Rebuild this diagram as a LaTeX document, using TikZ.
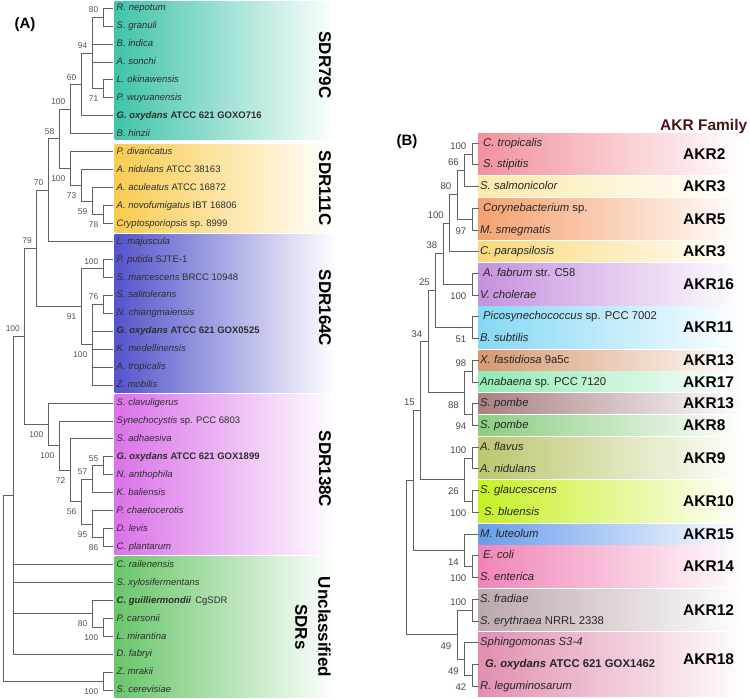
\documentclass[tikz,border=0pt]{standalone}
\usepackage{fontspec}
\setmainfont{Liberation Sans}
\usetikzlibrary{positioning}
\definecolor{sdrteal}{RGB}{64,196,168}
\definecolor{sdrgold}{RGB}{249,204,80}
\definecolor{sdrblue}{RGB}{84,84,204}
\definecolor{sdrpink}{RGB}{218,114,232}
\definecolor{sdrgreen}{RGB}{106,198,106}
\definecolor{akrtwo}{RGB}{242,145,155}
\definecolor{akrthreea}{RGB}{250,234,170}
\definecolor{akrfive}{RGB}{245,162,112}
\definecolor{akrthreeb}{RGB}{250,216,122}
\definecolor{akrsixteen}{RGB}{198,145,222}
\definecolor{akreleven}{RGB}{132,216,245}
\definecolor{akrthirteena}{RGB}{216,152,112}
\definecolor{akrseventeen}{RGB}{145,235,178}
\definecolor{akrthirteenb}{RGB}{168,128,130}
\definecolor{akreight}{RGB}{138,205,128}
\definecolor{akrnine}{RGB}{188,198,110}
\definecolor{akrten}{RGB}{198,240,36}
\definecolor{akrfifteen}{RGB}{104,157,235}
\definecolor{akrfourteen}{RGB}{240,132,182}
\definecolor{akrtwelve}{RGB}{188,168,172}
\definecolor{akreighteen}{RGB}{225,142,178}
\definecolor{akrtitle}{RGB}{75,20,25}
\tikzstyle{branch} = [draw=black!62, line width=0.65pt]
\tikzstyle{leafA} = [anchor=west, inner xsep=3.5pt, inner ysep=0pt, text height=7.5pt, text depth=2pt, text=black!82, font=\fontsize{9.5}{11}\selectfont]
\tikzstyle{leafB} = [anchor=west, inner xsep=1.5pt, inner ysep=0pt, text height=8.8pt, text depth=2.4pt, text=black!85, font=\fontsize{11.3}{13}\selectfont]
\tikzstyle{bootA} = [inner sep=0pt, text=black!68, font=\fontsize{8.4}{10}\selectfont]
\tikzstyle{bootB} = [inner sep=0pt, text=black!72, font=\fontsize{9.6}{11}\selectfont]
\tikzstyle{clade} = [rotate=-90, inner sep=0pt, align=center, font=\bfseries\fontsize{17}{23}\selectfont]
\tikzstyle{family} = [anchor=west, inner sep=0pt, font=\bfseries\fontsize{15.5}{18}\selectfont]
\tikzstyle{panel} = [inner sep=0pt, font=\bfseries\fontsize{15}{18}\selectfont]
\tikzset{
  upA/.style={above left=4pt and 4.5pt of #1},
  downA/.style={below left=7pt and 4.5pt of #1},
  upB/.style={above left=4.4pt and 5.5pt of #1},
  downB/.style={below left=8.4pt and 5.5pt of #1}
}

\begin{document}
\begin{tikzpicture}[x=1pt, y=-1pt]
		\useasboundingbox (0,0) rectangle (750,699);
		
		% (A) SDR clades
		\shade[left color=sdrteal, right color=white] (114.5,1) rectangle (336,139);
		\shade[left color=sdrgold, right color=white] (114.5,144) rectangle (336,232);
		\shade[left color=sdrblue, right color=white] (114.5,234) rectangle (336,392);
		\shade[left color=sdrpink, right color=white] (114.5,394) rectangle (336,554);
		\shade[left color=sdrgreen, right color=white] (114.5,556) rectangle (336,697);
		
		\node[panel] (panelA) at (25,25) {(A)};
		\node[clade] (sdr79) at (325,65) {SDR79C};
		\node[clade] (sdr111) at (325,188) {SDR111C};
		\node[clade] (sdr164) at (325,308) {SDR164C};
		\node[clade] (sdr138) at (325,469) {SDR138C};
		\node[clade] (sdrun) at (313,627) {Unclassified\\SDRs};
		
		\node[leafA] (nepotum) at (113,8.0) {\textit{R. nepotum}};
		\node[leafA] (granuli) at (113,25.95) {\textit{S. granuli}};
		\node[leafA] (indica) at (113,43.9) {\textit{B. indica}};
		\node[leafA] (sonchi) at (113,61.85) {\textit{A. sonchi}};
		\node[leafA] (okinaw) at (113,79.8) {\textit{L. okinawensis}};
		\node[leafA] (wuyuan) at (113,97.75) {\textit{P. wuyuanensis}};
		\node[leafA] (goxA) at (113,115.7) {\textbf{\textit{G. oxydans} ATCC 621 GOXO716}};
		\node[leafA] (hinzii) at (113,133.65) {\textit{B. hinzii}};
		\node[leafA] (divar) at (113,151.6) {\textit{P. divaricatus}};
		\node[leafA] (nidulA) at (113,169.55) {\textit{A. nidulans} ATCC 38163};
		\node[leafA] (aculeat) at (113,187.5) {\textit{A. aculeatus} ATCC 16872};
		\node[leafA] (novofum) at (113,205.45) {\textit{A. novofumigatus} IBT 16806};
		\node[leafA] (crypto) at (113,223.4) {\textit{Cryptosporiopsis} sp. 8999};
		\node[leafA] (majusc) at (113,241.35) {\textit{L. majuscula}};
		\node[leafA] (putida) at (113,259.3) {\textit{P. putida} SJTE-1};
		\node[leafA] (marces) at (113,277.25) {\textit{S. marcescens} BRCC 10948};
		\node[leafA] (salito) at (113,295.2) {\textit{S. salitolerans}};
		\node[leafA] (chiang) at (113,313.15) {\textit{N. chiangmaiensis}};
		\node[leafA] (goxB) at (113,331.1) {\textbf{\textit{G. oxydans} ATCC 621 GOX0525}};
		\node[leafA] (medell) at (113,349.05) {\textit{K. medellinensis}};
		\node[leafA] (tropA) at (113,367.0) {\textit{A. tropicalis}};
		\node[leafA] (mobilis) at (113,384.95) {\textit{Z. mobilis}};
		\node[leafA] (clavul) at (113,402.9) {\textit{S. clavuligerus}};
		\node[leafA] (synech) at (113,420.85) {\textit{Synechocystis} sp. PCC 6803};
		\node[leafA] (adhaes) at (113,438.8) {\textit{S. adhaesiva}};
		\node[leafA] (goxC) at (113,456.75) {\textbf{\textit{G. oxydans} ATCC 621 GOX1899}};
		\node[leafA] (antho) at (113,474.7) {\textit{N. anthophila}};
		\node[leafA] (balien) at (113,492.65) {\textit{K. baliensis}};
		\node[leafA] (chaeto) at (113,510.6) {\textit{P. chaetocerotis}};
		\node[leafA] (levis) at (113,528.55) {\textit{D. levis}};
		\node[leafA] (plant) at (113,546.5) {\textit{C. plantarum}};
		\node[leafA] (railen) at (113,564.45) {\textit{C. railenensis}};
		\node[leafA] (xylosi) at (113,582.4) {\textit{S. xylosifermentans}};
		\node[leafA] (guill) at (113,600.35) {\textbf{\textit{C. guilliermondii}}\hspace{4pt}CgSDR};
		\node[leafA] (carson) at (113,618.3) {\textit{P. carsonii}};
		\node[leafA] (miran) at (113,636.25) {\textit{L. mirantina}};
		\node[leafA] (fabryi) at (113,654.2) {\textit{D. fabryi}};
		\node[leafA] (mrakii) at (113,672.15) {\textit{Z. mrakii}};
		\node[leafA] (cerevi) at (113,690.1) {\textit{S. cerevisiae}};
		
		\coordinate (a80) at (103,16.98);
		\coordinate (a71) at (103,88.78);
		\coordinate (a94) at (92,52.88);
		\coordinate (a60) at (81,84.29);
		\coordinate (a100a) at (70,108.97);
		\coordinate (a78) at (103,214.43);
		\coordinate (a59) at (92,200.96);
		\coordinate (a73) at (81,185.26);
		\coordinate (a100b) at (70,168.43);
		\coordinate (a58) at (59,138.70);
		\coordinate (a70) at (48,190.03);
		\coordinate (a100c) at (103,268.28);
		\coordinate (a76) at (103,304.18);
		\coordinate (a100d) at (92,344.56);
		\coordinate (a91) at (81,306.42);
		\coordinate (a79) at (36.5,248.22);
		\coordinate (a55) at (103,465.73);
		\coordinate (a57) at (92,479.19);
		\coordinate (a86) at (103,537.53);
		\coordinate (a95) at (92,524.06);
		\coordinate (a56) at (81,501.62);
		\coordinate (a72) at (70,470.21);
		\coordinate (a100e) at (59,445.53);
		\coordinate (a100f) at (48,424.21);
		\coordinate (a100g) at (24.5,336.22);
		\coordinate (a100h) at (103,627.28);
		\coordinate (a80b) at (92,613.81);
		\coordinate (apoly) at (13.5,495.21);
		\coordinate (a100i) at (103,681.13);
		\coordinate (aroot) at (3,588.17);
		
		\path [branch] (a80) |- (nepotum.west) (a80) |- (granuli.west);
		\path [branch] (a71) |- (okinaw.west) (a71) |- (wuyuan.west);
		\path [branch] (a94) |- (a80) (a94) |- (indica.west) (a94) |- (sonchi.west) (a94) |- (a71);
		\path [branch] (a60) |- (a94) (a60) |- (goxA.west);
		\path [branch] (a100a) |- (a60) (a100a) |- (hinzii.west);
		\path [branch] (a78) |- (novofum.west) (a78) |- (crypto.west);
		\path [branch] (a59) |- (aculeat.west) (a59) |- (a78);
		\path [branch] (a73) |- (nidulA.west) (a73) |- (a59);
		\path [branch] (a100b) |- (divar.west) (a100b) |- (a73);
		\path [branch] (a58) |- (a100a) (a58) |- (a100b);
		\path [branch] (a70) |- (a58) (a70) |- (majusc.west);
		\path [branch] (a100c) |- (putida.west) (a100c) |- (marces.west);
		\path [branch] (a76) |- (salito.west) (a76) |- (chiang.west);
		\path [branch] (a100d) |- (a76) (a100d) |- (goxB.west) (a100d) |- (medell.west) (a100d) |- (tropA.west) (a100d) |- (mobilis.west);
		\path [branch] (a91) |- (a100c) (a91) |- (a100d);
		\path [branch] (a79) |- (a70) (a79) |- (a91);
		\path [branch] (a55) |- (goxC.west) (a55) |- (antho.west);
		\path [branch] (a57) |- (a55) (a57) |- (balien.west);
		\path [branch] (a86) |- (levis.west) (a86) |- (plant.west);
		\path [branch] (a95) |- (chaeto.west) (a95) |- (a86);
		\path [branch] (a56) |- (a57) (a56) |- (a95);
		\path [branch] (a72) |- (adhaes.west) (a72) |- (a56);
		\path [branch] (a100e) |- (synech.west) (a100e) |- (a72);
		\path [branch] (a100f) |- (clavul.west) (a100f) |- (a100e);
		\path [branch] (a100g) |- (a79) (a100g) |- (a100f);
		\path [branch] (a100h) |- (carson.west) (a100h) |- (miran.west);
		\path [branch] (a80b) |- (guill.west) (a80b) |- (a100h);
		\path [branch] (apoly) |- (a100g) (apoly) |- (railen.west) (apoly) |- (xylosi.west) (apoly) |- (a80b) (apoly) |- (fabryi.west);
		\path [branch] (a100i) |- (mrakii.west) (a100i) |- (cerevi.west);
		\path [branch] (aroot) |- (apoly) (aroot) |- (a100i);
		
		\node[bootA, upA=a80] (lA80) {80};
		\node[bootA, upA=a94] (lA94) {94};
		\node[bootA, downA=a71] (lA71) {71};
		\node[bootA, upA=a60] (lA60) {60};
		\node[bootA, upA=a100a] (lA100a) {100};
		\node[bootA, upA=a58] (lA58) {58};
		\node[bootA, downA=a100b] (lA100b) {100};
		\node[bootA, downA=a73] (lA73) {73};
		\node[bootA, downA=a59] (lA59) {59};
		\node[bootA, downA=a78] (lA78) {78};
		\node[bootA, upA=a70] (lA70) {70};
		\node[bootA, upA=a79] (lA79) {79};
		\node[bootA, upA=a100c] (lA100c) {100};
		\node[bootA, upA=a76] (lA76) {76};
		\node[bootA, downA=a91] (lA91) {91};
		\node[bootA, downA=a100d] (lA100d) {100};
		\node[bootA, upA=a100g] (lA100g) {100};
		\node[bootA, upA=a55] (lA55) {55};
		\node[bootA, upA=a57] (lA57) {57};
		\node[bootA, downA=a72] (lA72) {72};
		\node[bootA, downA=a100e] (lA100e) {100};
		\node[bootA, downA=a100f] (lA100f) {100};
		\node[bootA, downA=a56] (lA56) {56};
		\node[bootA, downA=a95] (lA95) {95};
		\node[bootA, downA=a86] (lA86) {86};
		\node[bootA, downA=a80b] (lA80b) {80};
		\node[bootA, downA=a100h] (lA100h) {100};
		\node[bootA, downA=a100i] (lA100i) {100};
		
		
		% (B) AKR families
		\shade[left color=akrtwo, right color=white] (478,133.0) rectangle (745,174.7);
		\shade[left color=akrthreea, right color=white] (478,176.4) rectangle (745,196.4);
		\shade[left color=akrfive, right color=white] (478,198.2) rectangle (745,239.9);
		\shade[left color=akrthreeb, right color=white] (478,241.6) rectangle (745,261.6);
		\shade[left color=akrsixteen, right color=white] (478,263.3) rectangle (745,305.0);
		\shade[left color=akreleven, right color=white] (478,306.8) rectangle (745,348.5);
		\shade[left color=akrthirteena, right color=white] (478,350.2) rectangle (745,370.2);
		\shade[left color=akrseventeen, right color=white] (478,371.9) rectangle (745,391.9);
		\shade[left color=akrthirteenb, right color=white] (478,393.6) rectangle (745,413.6);
		\shade[left color=akreight, right color=white] (478,415.4) rectangle (745,435.4);
		\shade[left color=akrnine, right color=white] (478,437.1) rectangle (745,478.8);
		\shade[left color=akrten, right color=white] (478,480.5) rectangle (745,522.2);
		\shade[left color=akrfifteen, right color=white] (478,524.0) rectangle (745,544.0);
		\shade[left color=akrfourteen, right color=white] (478,545.7) rectangle (745,587.4);
		\shade[left color=akrtwelve, right color=white] (478,589.1) rectangle (745,630.8);
		\shade[left color=akreighteen, right color=white] (478,632.6) rectangle (745,696.0);
		
		\node[panel] (panelB) at (407,142) {(B)};
		\node[family, text=akrtitle] (akrtitle) at (660,126) {AKR Family};
		\node[family] (fam2) at (683,153.9) {AKR2};
		\node[family] (fam3a) at (683,186.4) {AKR3};
		\node[family] (fam5) at (683,219.0) {AKR5};
		\node[family] (fam3b) at (683,251.6) {AKR3};
		\node[family] (fam16) at (683,284.2) {AKR16};
		\node[family] (fam11) at (683,327.6) {AKR11};
		\node[family] (fam13a) at (683,360.2) {AKR13};
		\node[family] (fam17) at (683,381.9) {AKR17};
		\node[family] (fam13b) at (683,403.6) {AKR13};
		\node[family] (fam8) at (683,425.4) {AKR8};
		\node[family] (fam9) at (683,457.9) {AKR9};
		\node[family] (fam10) at (683,501.4) {AKR10};
		\node[family] (fam15) at (683,534.0) {AKR15};
		\node[family] (fam14) at (683,566.5) {AKR14};
		\node[family] (fam12) at (683,610.0) {AKR12};
		\node[family] (fam18) at (683,659.0) {AKR18};
		
		\node[leafB] (ctrop) at (478.5,143.0) {\hspace{3pt}\textit{C. tropicalis}};
		\node[leafB] (sstip) at (478.5,164.72) {\hspace{3pt}\textit{S. stipitis}};
		\node[leafB] (ssalm) at (478.5,186.44) {\textit{S. salmonicolor}};
		\node[leafB] (coryne) at (478.5,208.16) {\hspace{3pt}\textit{Corynebacterium} sp.};
		\node[leafB] (msmeg) at (478.5,229.88) {\textit{M. smegmatis}};
		\node[leafB] (cpara) at (478.5,251.6) {\textit{C. parapsilosis}};
		\node[leafB] (afabr) at (478.5,273.32) {\hspace{3pt}\textit{A. fabrum} str. C58};
		\node[leafB] (vchol) at (478.5,295.04) {\textit{V. cholerae}};
		\node[leafB] (pico) at (478.5,316.76) {\hspace{3pt}\textit{Picosynechococcus} sp. PCC 7002};
		\node[leafB] (bsubt) at (478.5,338.48) {\textit{B. subtilis}};
		\node[leafB] (xfast) at (478.5,360.2) {\textit{X. fastidiosa} 9a5c};
		\node[leafB] (anab) at (478.5,381.92) {\textit{Anabaena} sp. PCC 7120};
		\node[leafB] (spomA) at (478.5,403.64) {\textit{S. pombe}};
		\node[leafB] (spomB) at (478.5,425.36) {\textit{S. pombe}};
		\node[leafB] (aflav) at (478.5,447.08) {\textit{A. flavus}};
		\node[leafB] (anidB) at (478.5,468.8) {\textit{A. nidulans}};
		\node[leafB] (sglau) at (478.5,490.52) {\textit{S. glaucescens}};
		\node[leafB] (sblue) at (478.5,512.24) {\hspace{4pt}\textit{S. bluensis}};
		\node[leafB] (mlute) at (478.5,533.96) {\textit{M. luteolum}};
		\node[leafB] (ecoli) at (478.5,555.68) {\hspace{3pt}\textit{E. coli}};
		\node[leafB] (sente) at (478.5,577.4) {\textit{S. enterica}};
		\node[leafB] (sfrad) at (478.5,599.12) {\textit{S. fradiae}};
		\node[leafB] (seryt) at (478.5,620.84) {\textit{S. erythraea} NRRL 2338};
		\node[leafB] (sphin) at (478.5,642.56) {\textit{Sphingomonas S3-4}};
		\node[leafB] (goxD) at (478.5,664.28) {\hspace{5pt}\textbf{\textit{G. oxydans} ATCC 621 GOX1462}};
		\node[leafB] (rlegu) at (478.5,686.0) {\textit{R. leguminosarum}};
		
		\coordinate (b100a) at (472,153.86);
		\coordinate (b66) at (464.5,170.15);
		\coordinate (b97) at (472,219.02);
		\coordinate (b80) at (457,194.59);
		\coordinate (b100b) at (449.5,223.10);
		\coordinate (b100c) at (472,284.18);
		\coordinate (b38) at (443,253.64);
		\coordinate (b51) at (472,327.62);
		\coordinate (b25) at (435.5,290.63);
		\coordinate (b98) at (472,371.06);
		\coordinate (b94) at (472,414.50);
		\coordinate (b88) at (464.5,392.78);
		\coordinate (b34) at (428,341.70);
		\coordinate (b100d) at (472,457.94);
		\coordinate (b100e) at (472,501.38);
		\coordinate (b26) at (464.5,479.66);
		\coordinate (b15) at (420.5,410.68);
		\coordinate (b100f) at (472,566.54);
		\coordinate (b14) at (464.5,550.25);
		\coordinate (bnode) at (413,480.47);
		\coordinate (b100g) at (472,609.98);
		\coordinate (b42) at (472,675.14);
		\coordinate (b49b) at (464.5,658.85);
		\coordinate (b49a) at (457,634.42);
		\coordinate (broot) at (406,557.45);
		
		\path [branch] (b100a) |- (ctrop.west) (b100a) |- (sstip.west);
		\path [branch] (b66) |- (b100a) (b66) |- (ssalm.west);
		\path [branch] (b97) |- (coryne.west) (b97) |- (msmeg.west);
		\path [branch] (b80) |- (b66) (b80) |- (b97);
		\path [branch] (b100b) |- (b80) (b100b) |- (cpara.west);
		\path [branch] (b100c) |- (afabr.west) (b100c) |- (vchol.west);
		\path [branch] (b38) |- (b100b) (b38) |- (b100c);
		\path [branch] (b51) |- (pico.west) (b51) |- (bsubt.west);
		\path [branch] (b25) |- (b38) (b25) |- (b51);
		\path [branch] (b98) |- (xfast.west) (b98) |- (anab.west);
		\path [branch] (b94) |- (spomA.west) (b94) |- (spomB.west);
		\path [branch] (b88) |- (b98) (b88) |- (b94);
		\path [branch] (b34) |- (b25) (b34) |- (b88);
		\path [branch] (b100d) |- (aflav.west) (b100d) |- (anidB.west);
		\path [branch] (b100e) |- (sglau.west) (b100e) |- (sblue.west);
		\path [branch] (b26) |- (b100d) (b26) |- (b100e);
		\path [branch] (b15) |- (b34) (b15) |- (b26);
		\path [branch] (b100f) |- (ecoli.west) (b100f) |- (sente.west);
		\path [branch] (b14) |- (mlute.west) (b14) |- (b100f);
		\path [branch] (bnode) |- (b15) (bnode) |- (b14);
		\path [branch] (b100g) |- (sfrad.west) (b100g) |- (seryt.west);
		\path [branch] (b42) |- (goxD.west) (b42) |- (rlegu.west);
		\path [branch] (b49b) |- (sphin.west) (b49b) |- (b42);
		\path [branch] (b49a) |- (b100g) (b49a) |- (b49b);
		\path [branch] (broot) |- (bnode) (broot) |- (b49a);
		
		\node[bootB, upB=b100a] (lB100a) {100};
		\node[bootB, upB=b66] (lB66) {66};
		\node[bootB, upB=b80] (lB80) {80};
		\node[bootB, upB=b100b] (lB100b) {100};
		\node[bootB, downB=b97] (lB97) {97};
		\node[bootB, upB=b38] (lB38) {38};
		\node[bootB, downB=b100c] (lB100c) {100};
		\node[bootB, upB=b25] (lB25) {25};
		\node[bootB, downB=b51] (lB51) {51};
		\node[bootB, upB=b98] (lB98) {98};
		\node[bootB, upB=b34] (lB34) {34};
		\node[bootB, downB=b88] (lB88) {88};
		\node[bootB, downB=b94] (lB94) {94};
		\node[bootB, upB=b15] (lB15) {15};
		\node[bootB, upB=b100d] (lB100d) {100};
		\node[bootB, downB=b26] (lB26) {26};
		\node[bootB, downB=b100e] (lB100e) {100};
		\node[bootB, downB=b14] (lB14) {14};
		\node[bootB, downB=b100f] (lB100f) {100};
		\node[bootB, upB=b100g] (lB100g) {100};
		\node[bootB, downB=b49a] (lB49a) {49};
		\node[bootB, downB=b49b] (lB49b) {49};
		\node[bootB, downB=b42] (lB42) {42};
		
\end{tikzpicture}
\end{document}
